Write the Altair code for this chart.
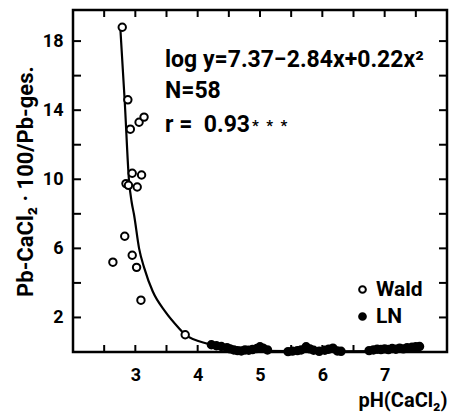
import altair as alt
import pandas as pd

# ---- data ----
wald_ph = [2.79, 2.88, 2.92, 3.06, 3.14, 2.95, 3.10, 3.03, 2.85, 2.89, 2.83, 2.95, 2.64, 3.02, 3.09, 3.80]
wald_val = [18.8, 14.6, 12.9, 13.3, 13.6, 10.35, 10.25, 9.55, 9.75, 9.65, 6.7, 5.6, 5.2, 4.9, 3.0, 1.0]

ln_ph = [4.22, 4.30, 4.38, 4.47, 4.52, 4.58, 4.64, 4.70, 4.76, 4.82, 4.88, 4.95, 5.00, 5.05, 5.12,
         5.45, 5.52, 5.60, 5.66, 5.74, 5.80, 5.86, 5.95, 6.04, 6.10, 6.17, 6.24, 6.30,
         6.75, 6.82, 6.88, 6.94, 7.00, 7.06, 7.12, 7.18, 7.24, 7.30, 7.36, 7.44, 7.50, 7.56]
ln_val = [0.42, 0.36, 0.32, 0.25, 0.18, 0.12, 0.08, 0.06, 0.12, 0.10, 0.14, 0.20, 0.30, 0.22, 0.12,
          0.02, 0.05, 0.08, 0.12, 0.30, 0.18, 0.10, 0.04, 0.10, 0.16, 0.22, 0.06, 0.04,
          0.08, 0.12, 0.16, 0.14, 0.18, 0.14, 0.20, 0.16, 0.22, 0.18, 0.25, 0.28, 0.30, 0.32]

curve_ph = [2.76, 2.83, 2.90, 2.94, 2.98, 3.06, 3.145, 3.28, 3.48, 3.70, 3.80, 4.21, 4.45, 5.0, 6.0, 7.0, 7.55]
curve_val = [18.7, 14.5, 9.85, 8.7, 7.93, 6.0, 4.84, 3.5, 2.34, 1.38, 1.0, 0.42, 0.13, 0.06, 0.04, 0.05, 0.08]

x_labels = [3, 4, 5, 6, 7]
y_labels = [2, 6, 10, 14, 18]
x_ticks = [2.5, 3.0, 3.5, 4.0, 4.5, 5.0, 5.5, 6.0, 6.5, 7.0, 7.5]
y_ticks = [2, 4, 6, 8, 10, 12, 14, 16, 18]

annot_lines = ["log y=7.37−2.84x+0.22x²", "N=58", "r =\u00a0\u00a00.93"]
annot_stars = "*\u00a0\u00a0*\u00a0\u00a0*"

W, H = 374, 342
FONT = "Roboto"

pts = pd.DataFrame({
    "ph": wald_ph + ln_ph,
    "val": wald_val + ln_val,
    "group": ["Wald"] * len(wald_ph) + ["LN"] * len(ln_ph),
})
curve = pd.DataFrame({"ph": curve_ph, "val": curve_val})
xt = pd.DataFrame({"ph": x_ticks})
yt = pd.DataFrame({"val": y_ticks})

xs = alt.Scale(domain=[2, 8], nice=False, zero=False)
ys = alt.Scale(domain=[0, 19.8], nice=False, zero=False)

xaxis = alt.Axis(values=x_labels, format="d", tickSize=0, domain=False, grid=False,
                 labelFontSize=18, labelFont=FONT, labelFontWeight="bold", labelColor="black",
                 labelPadding=14, title="pH(CaCl₂)", titleAnchor="end", titleAlign="right",
                 titleFontSize=20, titleFont=FONT, titleFontWeight="bold", titleColor="black",
                 titlePadding=6)
yaxis = alt.Axis(values=y_labels, format="d", tickSize=0, domain=False, grid=False,
                 labelFontSize=18, labelFont=FONT, labelFontWeight="bold", labelColor="black",
                 labelPadding=10, title="Pb-CaCl₂ · 100/Pb-ges.", titleFontSize=22,
                 titleFont=FONT, titleFontWeight="bold", titleColor="black", titlePadding=5)

line = alt.Chart(curve).mark_line(color="black", strokeWidth=2.2, interpolate="monotone").encode(
    x=alt.X("ph:Q", scale=xs, axis=xaxis),
    y=alt.Y("val:Q", scale=ys, axis=yaxis),
)

points = alt.Chart(pts).mark_point(shape="circle", size=55, strokeWidth=2, stroke="black",
                                    filled=True, opacity=1, fillOpacity=1).encode(
    x=alt.X("ph:Q", scale=xs),
    y=alt.Y("val:Q", scale=ys),
    fill=alt.Fill("group:N", scale=alt.Scale(domain=["Wald", "LN"], range=["white", "black"]),
                  legend=alt.Legend(title=None, orient="none", legendX=279, legendY=269,
                                    labelFontSize=21, labelFont=FONT, labelFontWeight="bold",
                                    labelColor="black", symbolStrokeColor="black",
                                    symbolStrokeWidth=2, symbolSize=45, rowPadding=5,
                                    labelOffset=3, symbolType="circle")),
)

xb = alt.Chart(xt).mark_rule(color="black", strokeWidth=2).encode(
    x=alt.X("ph:Q", scale=xs), y=alt.value(H), y2=alt.value(H - 7))
xtp = alt.Chart(xt).mark_rule(color="black", strokeWidth=2).encode(
    x=alt.X("ph:Q", scale=xs), y=alt.value(0), y2=alt.value(7))
yl = alt.Chart(yt).mark_rule(color="black", strokeWidth=2).encode(
    y=alt.Y("val:Q", scale=ys), x=alt.value(0), x2=alt.value(8))
yr = alt.Chart(yt).mark_rule(color="black", strokeWidth=2).encode(
    y=alt.Y("val:Q", scale=ys), x=alt.value(W - 8), x2=alt.value(W))

ann = pd.DataFrame({"t": annot_lines, "px": [92, 92, 92], "py": [50, 81, 115]})
texts = alt.Chart(ann).mark_text(align="left", baseline="middle", fontSize=23, font=FONT,
                                 fontWeight="bold", color="black").encode(
    x=alt.X("px:Q", scale=None), y=alt.Y("py:Q", scale=None), text="t:N")
stars = alt.Chart(pd.DataFrame({"t": [annot_stars]})).mark_text(
    align="left", baseline="alphabetic", fontSize=15, font=FONT, fontWeight="bold", color="black").encode(
    x=alt.value(179), y=alt.value(121), text="t:N")

chart = alt.layer(line, points, xb, xtp, yl, yr, texts, stars).properties(
    width=W, height=H,
    autosize=alt.AutoSizeParams(type="none"),
    padding={"left": 73, "top": 10, "right": 6, "bottom": 61},
    background="white",
).configure_view(stroke="black", strokeWidth=2.5)

chart.save("out.html", embed_options={"renderer": "svg", "actions": False})
